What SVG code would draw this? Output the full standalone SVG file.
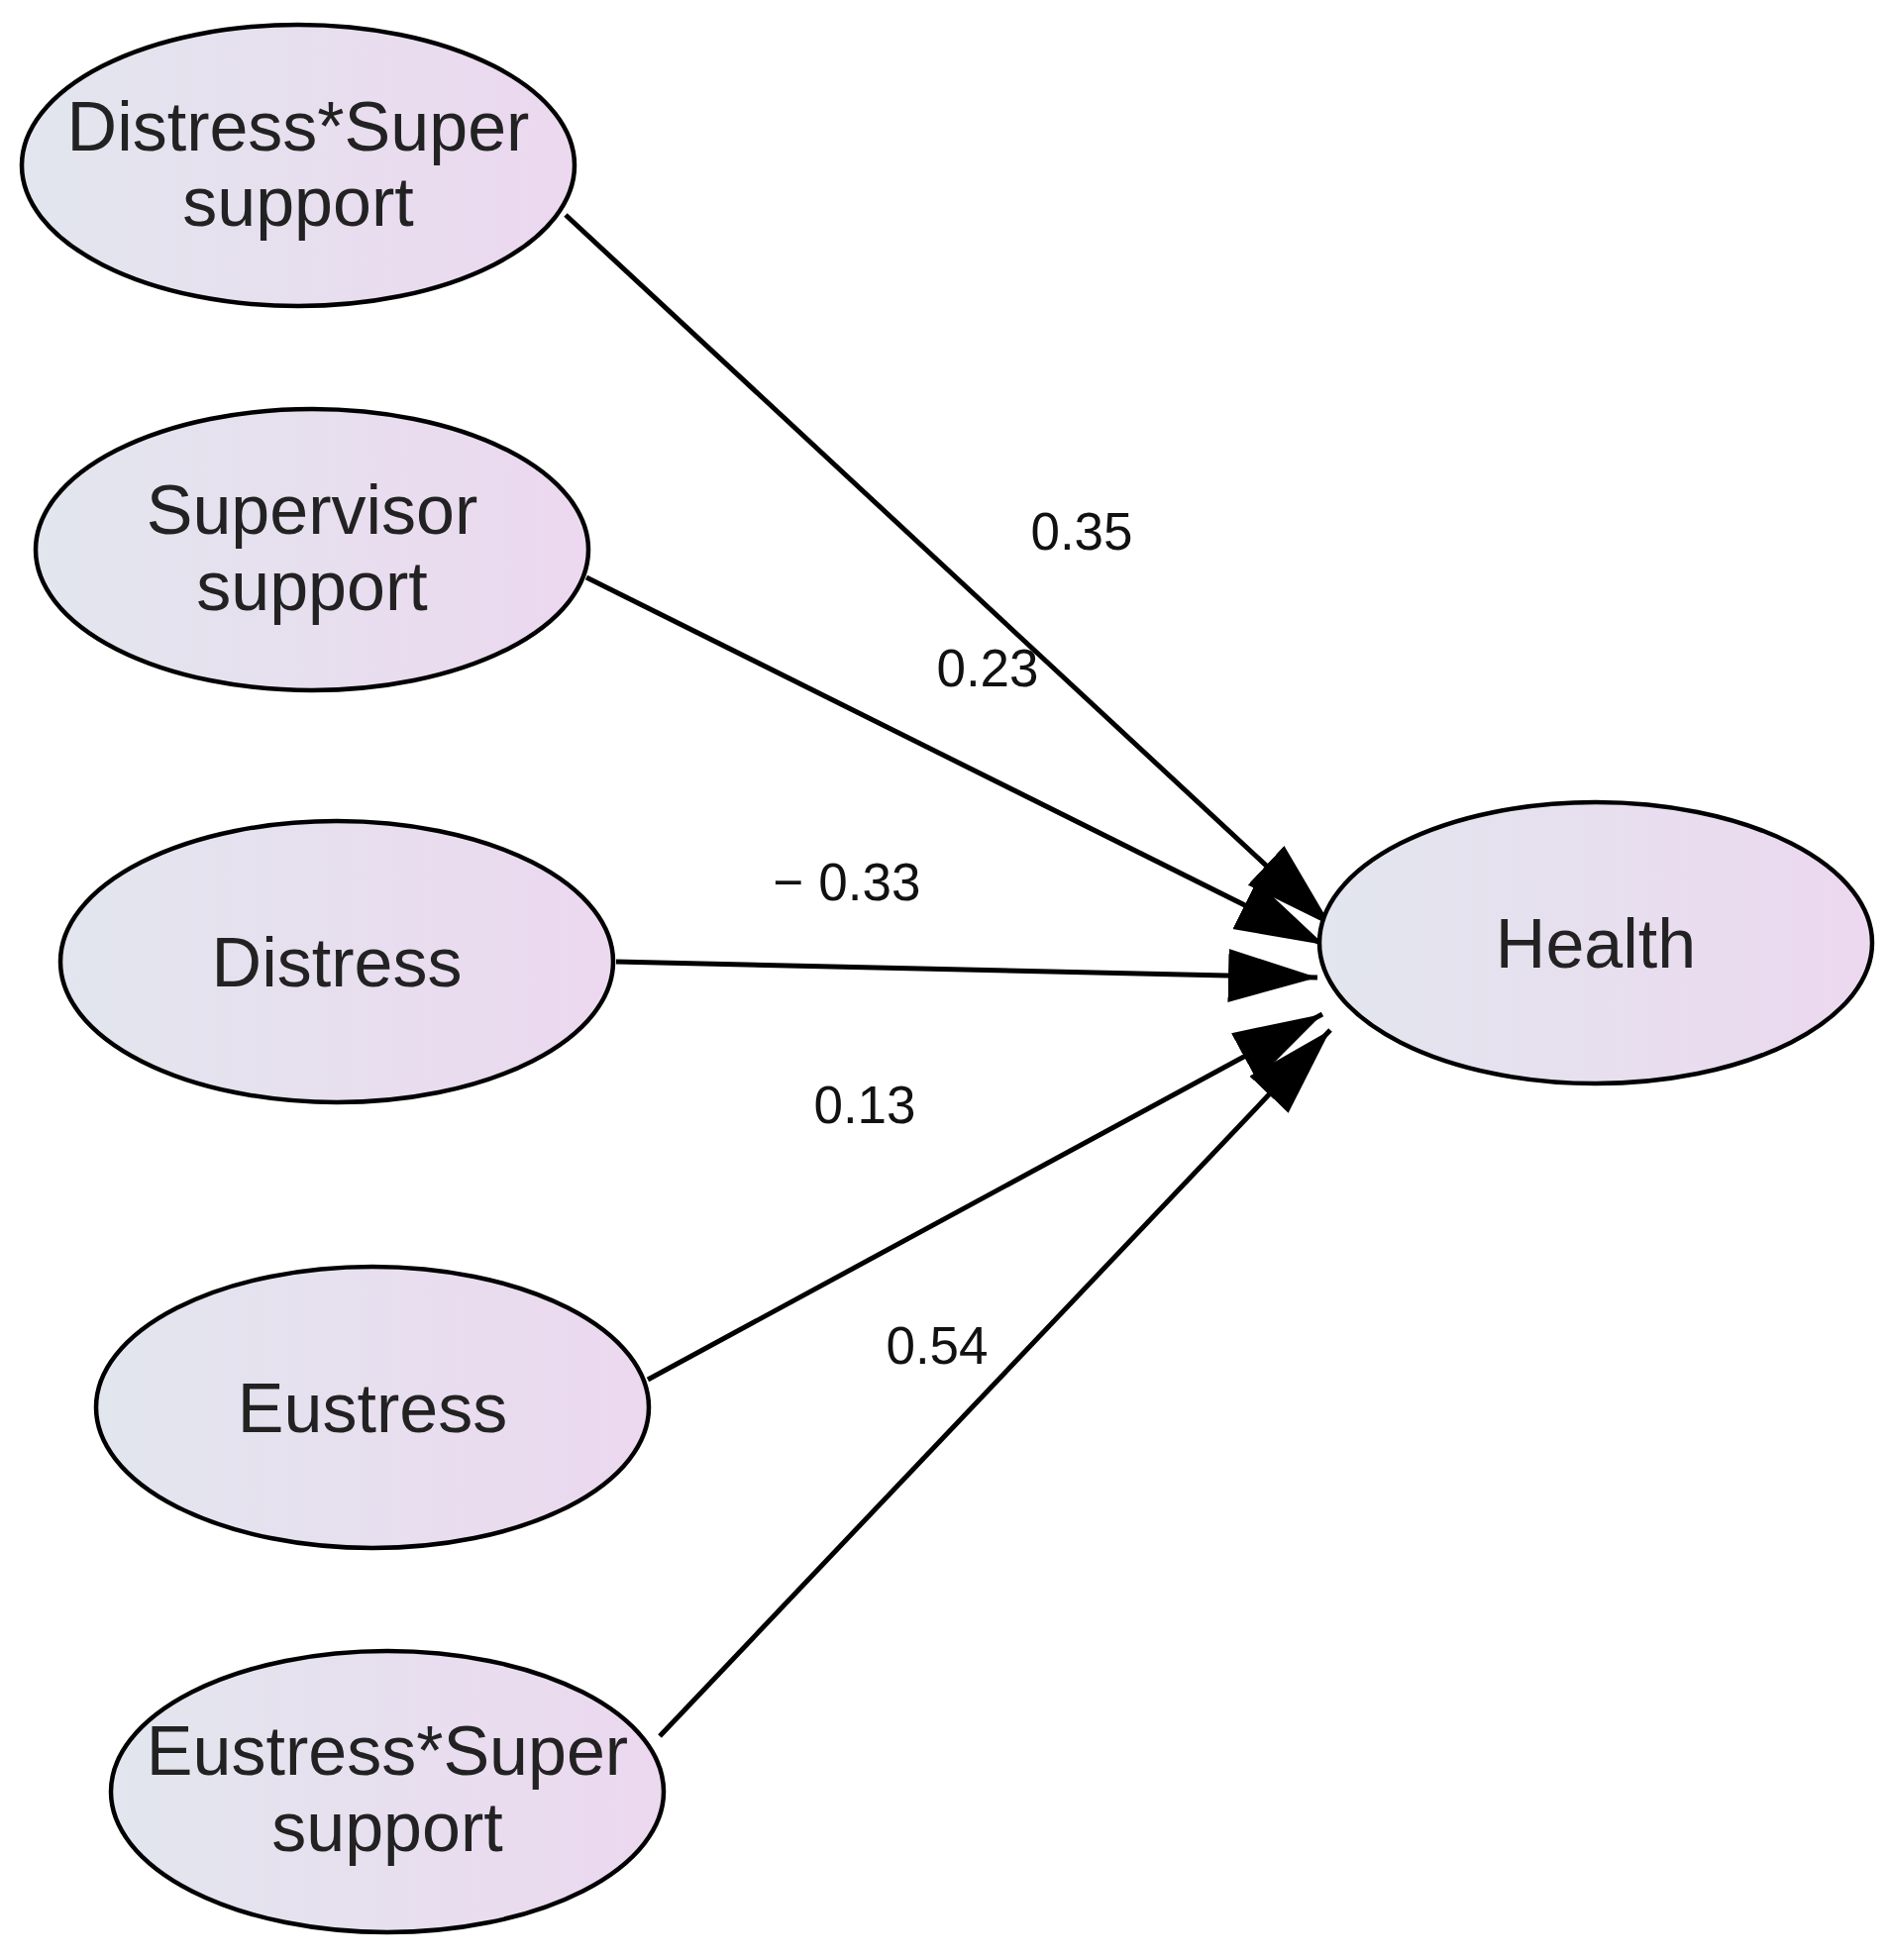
<svg xmlns="http://www.w3.org/2000/svg" width="1906" height="1979" viewBox="0 0 1906 1979">
<style>
.n{stroke:#000;stroke-width:4.5;fill:url(#g)}
.t{font-family:"Liberation Sans",Arial,sans-serif;font-size:70px;fill:#222;text-anchor:middle}
.l{font-family:"Liberation Sans",Arial,sans-serif;font-size:53px;fill:#111;text-anchor:middle}
.c{stroke:#000;stroke-width:5;fill:none;marker-end:url(#a)}
</style>
<defs>
<linearGradient id="g" x1="0" y1="0" x2="1" y2="0">
<stop offset="0" stop-color="#e2e6ee"/><stop offset="1" stop-color="#ecd8ef"/>
</linearGradient>
<marker id="a" markerUnits="userSpaceOnUse" markerWidth="100" markerHeight="60" refX="90" refY="27" orient="auto">
<path d="M0,0 L90,27 L0,54 z" fill="#000"/>
</marker>
</defs>
<rect width="1906" height="1979" fill="#fff"/>
<g id="connectors">
<line class="c" x1="571" y1="217" x2="1344" y2="935"/>
<line class="c" x1="592" y1="583" x2="1337" y2="954"/>
<line class="c" x1="622" y1="971" x2="1330" y2="987"/>
<line class="c" x1="654" y1="1393" x2="1335" y2="1024"/>
<line class="c" x1="666" y1="1753" x2="1343" y2="1040"/>
<text class="l" x="1092" y="555">0.35</text>
<text class="l" x="997" y="693">0.23</text>
<text class="l" x="855" y="909">− 0.33</text>
<text class="l" x="873" y="1134">0.13</text>
<text class="l" x="946" y="1377">0.54</text>
</g>
<g id="n1"><ellipse class="n" cx="301" cy="167" rx="279" ry="142"/><text class="t" x="301" y="152">Distress*Super</text><text class="t" x="301" y="228">support</text></g>
<g id="n2"><ellipse class="n" cx="315" cy="555" rx="279" ry="142"/><text class="t" x="315" y="539">Supervisor</text><text class="t" x="315" y="616">support</text></g>
<g id="n3"><ellipse class="n" cx="340" cy="971" rx="279" ry="142"/><text class="t" x="340" y="996">Distress</text></g>
<g id="n4"><ellipse class="n" cx="376" cy="1421" rx="279" ry="142"/><text class="t" x="376" y="1446">Eustress</text></g>
<g id="n5"><ellipse class="n" cx="391" cy="1809" rx="279" ry="142"/><text class="t" x="391" y="1792">Eustress*Super</text><text class="t" x="391" y="1869">support</text></g>
<g id="health"><ellipse class="n" cx="1611" cy="952" rx="279" ry="142"/><text class="t" x="1611" y="977">Health</text></g>
</svg>
